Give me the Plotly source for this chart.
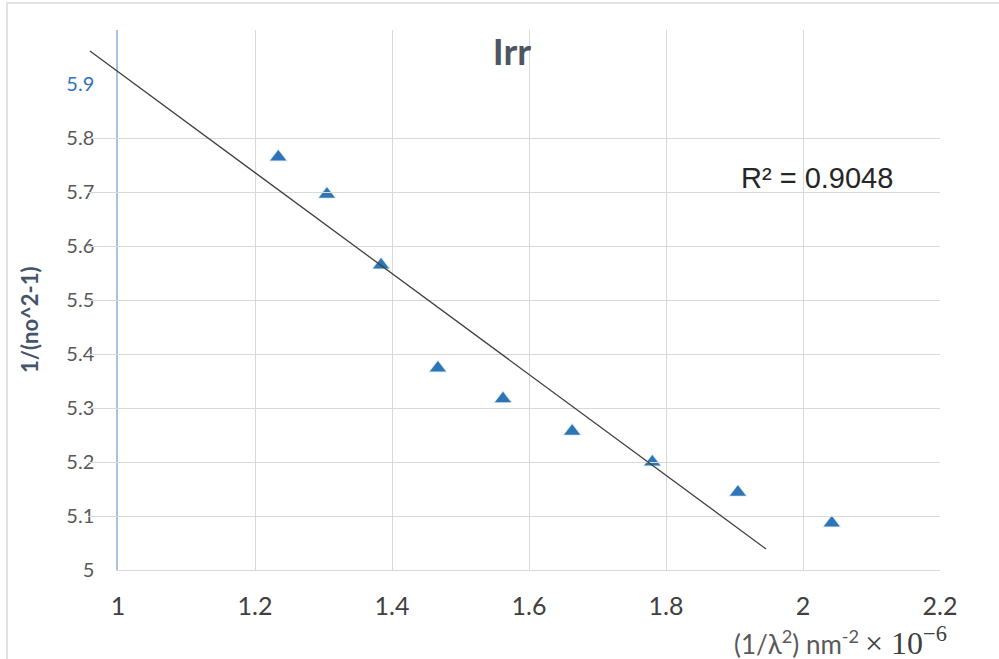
import plotly.graph_objects as go

# Measured points: 1/lambda^2 (nm^-2 x 1e-6) vs 1/(n0^2 - 1)
x_vals = [1.234, 1.305, 1.384, 1.467, 1.562, 1.663, 1.780, 1.905, 2.042]
y_vals = [5.765, 5.696, 5.565, 5.374, 5.317, 5.257, 5.200, 5.144, 5.087]

# Linear trendline end points
trend_x = [0.959, 1.946]
trend_y = [5.961, 5.039]
r2_label = "R² = 0.9048"

x_ticks = [1.0, 1.2, 1.4, 1.6, 1.8, 2.0, 2.2]
x_tick_labels = ["1", "1.2", "1.4", "1.6", "1.8", "2", "2.2"]
x_grid = [1.2, 1.4, 1.6, 1.8, 2.0]

y_ticks = [5.0, 5.1, 5.2, 5.3, 5.4, 5.5, 5.6, 5.7, 5.8, 5.9]
y_tick_labels = ["5", "5.1", "5.2", "5.3", "5.4", "5.5", "5.6", "5.7", "5.8",
                 "<span style='color:#2E75B6'>5.9</span>"]
y_grid = [5.1, 5.2, 5.3, 5.4, 5.5, 5.6, 5.7, 5.8]

x_title_unit = "(1/λ<sup>2</sup>) nm<sup>-2</sup>"
x_title_scale = "× 10<sup>−6</sup>"

X_RANGE = [1.0, 2.2]
Y_RANGE = [5.0, 6.0]

W, H = 999, 659
M_L, M_R, M_T, M_B = 88, 59, 30, 89
AXIS_OFFSET = 30  # gap between the paper's left edge and the y axis, px
plot_w = W - M_L - M_R
x_dom0 = AXIS_OFFSET / plot_w
# wider x axis sharing the same scale, so the trendline can start left of x=1
x2_lo = X_RANGE[0] - (X_RANGE[1] - X_RANGE[0]) * x_dom0 / (1 - x_dom0)

GRID = "#D9D9D9"
FONT = "Lato, 'Open Sans', sans-serif"

fig = go.Figure()

fig.add_trace(go.Scatter(
    x=trend_x, y=trend_y, mode="lines", xaxis="x2", yaxis="y",
    line=dict(color="#404040", width=1.3), showlegend=False, hoverinfo="skip",
))

# soft halo under each marker
fig.add_trace(go.Scatter(
    x=x_vals, y=y_vals, mode="markers", xaxis="x", yaxis="y",
    marker=dict(symbol="triangle-up", size=17, color="rgba(46,117,182,0.16)",
                line=dict(width=0)),
    showlegend=False, hoverinfo="skip",
))
fig.add_trace(go.Scatter(
    x=x_vals, y=y_vals, mode="markers", xaxis="x", yaxis="y",
    marker=dict(symbol="triangle-up", size=14, color="#2E75B6",
                line=dict(width=0)),
    showlegend=False,
))

fig.update_layout(
    width=W, height=H, autosize=False,
    margin=dict(l=M_L, r=M_R, t=M_T, b=M_B, pad=0),
    paper_bgcolor="white", plot_bgcolor="rgba(0,0,0,0)",
    title=dict(text="Irr", x=512 / W, y=1 - 52 / H, xref="container",
               yref="container", xanchor="center", yanchor="middle",
               font=dict(family=FONT, size=37, color="#4d5563", weight="bold")),
    xaxis=dict(
        domain=[x_dom0, 1], range=X_RANGE, anchor="y",
        tickmode="array", tickvals=x_ticks, ticktext=x_tick_labels,
        showgrid=False, zeroline=False, ticks="",
        minor=dict(tickmode="array", tickvals=x_grid, showgrid=True,
                   gridcolor=GRID, gridwidth=1, ticks=""),
        showline=True, linecolor=GRID, linewidth=1,
        tickfont=dict(family=FONT, size=25, color="#404040"),
        ticklabelstandoff=14,
    ),
    xaxis2=dict(
        domain=[0, 1], range=[x2_lo, X_RANGE[1]], anchor="y", visible=False,
    ),
    yaxis=dict(
        domain=[0, 1], range=Y_RANGE, anchor="x",
        tickmode="array", tickvals=y_ticks, ticktext=y_tick_labels,
        showgrid=False, zeroline=False, ticks="",
        minor=dict(tickmode="array", tickvals=y_grid, showgrid=True,
                   gridcolor=GRID, gridwidth=1, ticks=""),
        showline=True, linecolor="#A9C3DE", linewidth=1.5,
        tickfont=dict(family=FONT, size=20, color="#595959"),
        ticklabelstandoff=18,
    ),
    annotations=[
        dict(text="1/(no^2-1)", xref="paper", yref="paper", x=0, y=0.463,
             xshift=-58, textangle=-90, showarrow=False,
             xanchor="center", yanchor="middle",
             font=dict(family=FONT, size=22, color="#44546A", weight="bold")),
        # x-axis title: unit part and scale factor
        dict(text=x_title_unit, xref="paper", yref="paper", x=1, y=0,
             xshift=-80, yshift=-72, showarrow=False, xanchor="right",
             yanchor="middle", borderpad=0,
             font=dict(family=FONT, size=26, color="#595959")),
        dict(text=x_title_scale, xref="paper", yref="paper", x=1, y=0,
             xshift=-76, yshift=-71, showarrow=False, xanchor="left",
             yanchor="middle", borderpad=0,
             font=dict(family="Liberation Serif, serif", size=32,
                       color="#404040")),
        dict(text=r2_label, xref="paper", yref="paper",
             x=(739 - M_L) / plot_w, y=(H - M_B - 178) / (H - M_T - M_B),
             showarrow=False, xanchor="left", yanchor="middle",
             font=dict(family="Liberation Sans, Arial, sans-serif", size=29,
                       color="#262626")),
    ],
    shapes=[
        dict(type="rect", xref="paper", yref="paper",
             x0=(7 - M_L) / plot_w, x1=1.5,
             y0=-0.5, y1=(H - M_B - 3) / (H - M_T - M_B),
             line=dict(color=GRID, width=1.5), fillcolor="rgba(0,0,0,0)",
             layer="below"),
    ],
)

fig.write_html("out.html")
